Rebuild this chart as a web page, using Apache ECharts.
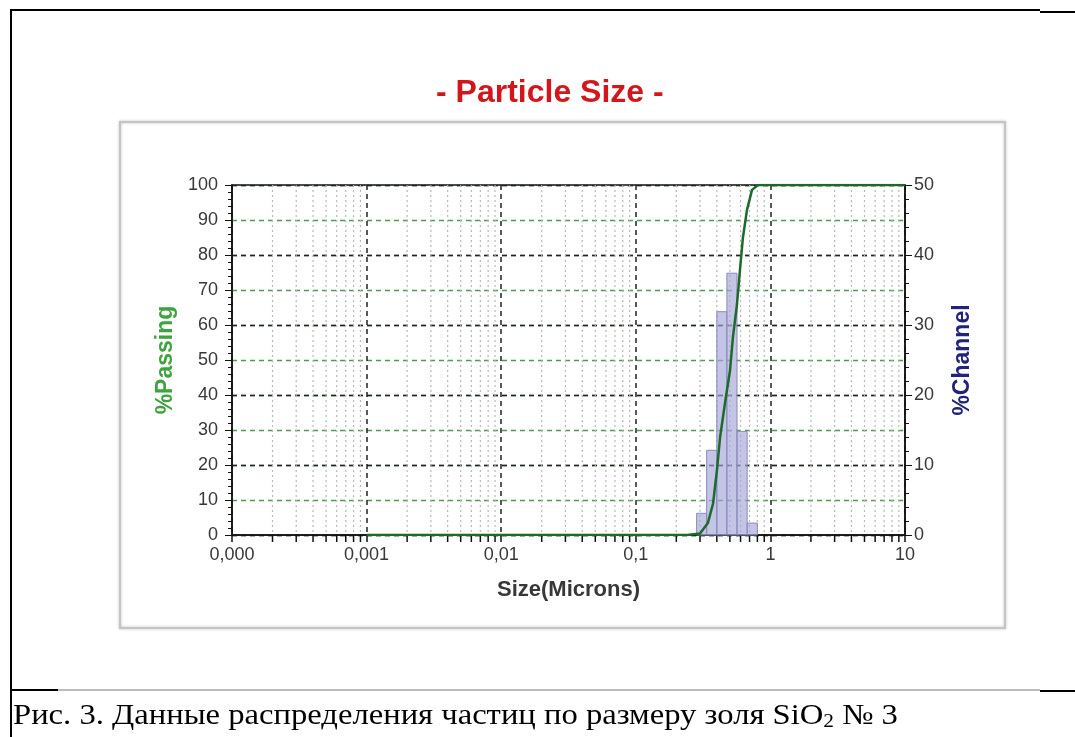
<!DOCTYPE html>
<html><head><meta charset="utf-8">
<script src="https://cdn.jsdelivr.net/npm/echarts@6/dist/echarts.min.js"></script>
<style>html,body{margin:0;padding:0;background:#fff;}#c{width:1075px;height:737px;}</style>
</head><body><div id="c"></div>
<script>
// ---- data ----
const xTickValues = [0.0001, 0.001, 0.01, 0.1, 1, 10];
const xTickLabels = ['0,000', '0,001', '0,01', '0,1', '1', '10'];
const minorDecades = [0.0001, 0.001, 0.01, 0.1, 1];
const minorMultipliers = [2, 3, 4, 5, 6, 7, 8, 9];
const binLower = [0.283, 0.336, 0.400, 0.475, 0.565, 0.672];
const binUpper = [0.336, 0.400, 0.475, 0.565, 0.672, 0.800];
const channelPct = [3.1, 12.1, 31.9, 37.4, 14.8, 1.7];
const passSize = [0.001, 0.24, 0.30, 0.343, 0.375, 0.401, 0.423, 0.46, 0.501, 0.527, 0.565, 0.594, 0.625, 0.67, 0.73, 0.809, 10];
const passPct  = [0, 0, 0.4, 3.4, 9, 18.6, 28, 37.7, 47, 56.6, 66, 75.7, 85, 92.9, 98.6, 100, 100];

const FONT = '"Liberation Sans", Arial, sans-serif';
const minorData = [];
minorDecades.forEach(d => minorMultipliers.forEach(m => minorData.push([d * m, 0])));
const barData = binLower.map((lo, i) => [lo, binUpper[i], channelPct[i]]);
const lineData = passSize.map((s, i) => [s, passPct[i]]);

function fmtX(v) {
  for (let i = 0; i < xTickValues.length; i++) {
    if (Math.abs(Math.log10(v) - Math.log10(xTickValues[i])) < 1e-6) return xTickLabels[i];
  }
  return '';
}

const chart = echarts.init(document.getElementById('c'), null, {renderer: 'canvas'});
chart.setOption({
  animation: false,
  backgroundColor: '#fff',
  title: {
    text: '- Particle Size -', left: 431, top: 72,
    textStyle: {fontFamily: FONT, fontSize: 32, fontWeight: 'bold', color: '#d3161b'}
  },
  grid: {left: 232, right: 170, top: 185, bottom: 202, show: true, borderColor: '#111', borderWidth: 1.5, backgroundColor: 'transparent'},
  xAxis: {
    type: 'log', logBase: 10, min: 0.0001, max: 10,
    axisLine: {show: true, lineStyle: {color: '#111', width: 1.5}},
    axisTick: {show: true, length: 7, lineStyle: {color: '#111', width: 1.5}},
    axisLabel: {formatter: fmtX, fontFamily: FONT, fontSize: 18, color: '#383838', margin: 11},
    splitLine: {show: true, lineStyle: {type: [5, 4], color: '#222', width: 1.5}},
    name: 'Size(Microns)', nameLocation: 'middle', nameGap: 44,
    nameTextStyle: {fontFamily: FONT, fontSize: 22, fontWeight: 'bold', color: '#383838'}
  },
  yAxis: [{
    type: 'value', min: 0, max: 100, interval: 10,
    axisLine: {show: true, lineStyle: {color: '#111', width: 1.5}},
    axisTick: {show: true, length: 7, lineStyle: {color: '#111'}},
    minorTick: {show: true, splitNumber: 5, length: 4, lineStyle: {color: '#111'}},
    axisLabel: {fontFamily: FONT, fontSize: 18, color: '#383838', margin: 14},
    splitLine: {show: true, lineStyle: {type: [5, 4], color: '#4f9a4f', width: 1.3}},
    name: '%Passing', nameLocation: 'middle', nameGap: 54,
    nameTextStyle: {fontFamily: FONT, fontSize: 23, fontWeight: 'bold', color: '#3ea23e'}
  }, {
    type: 'value', min: 0, max: 50, interval: 10, position: 'right',
    axisLine: {show: true, lineStyle: {color: '#111', width: 1.5}},
    axisTick: {show: true, length: 7, lineStyle: {color: '#111'}},
    minorTick: {show: true, splitNumber: 5, length: 4, lineStyle: {color: '#111'}},
    axisLabel: {fontFamily: FONT, fontSize: 18, color: '#383838', margin: 9},
    splitLine: {show: true, lineStyle: {type: [5, 4], color: '#222', width: 1.3}},
    name: '%Channel', nameLocation: 'middle', nameGap: 46,
    nameTextStyle: {fontFamily: FONT, fontSize: 23, fontWeight: 'bold', color: '#22227a'}
  }],
  series: [{
    type: 'custom', silent: true, z: 1, xAxisIndex: 0, yAxisIndex: 0,
    data: minorData, encode: {x: 0, y: 1},
    renderItem: function (params, api) {
      const x = api.coord([api.value(0), 0])[0];
      const yb = api.coord([api.value(0), 0])[1];
      const yt = api.coord([api.value(0), 100])[1];
      return {type: 'group', children: [
        {type: 'line', shape: {x1: x, y1: yt, x2: x, y2: yb}, style: {stroke: '#b8b8b8', lineWidth: 1.2, lineDash: [2, 3]}},
        {type: 'line', shape: {x1: x, y1: yb, x2: x, y2: yb + 7}, style: {stroke: '#111', lineWidth: 1.5}}
      ]};
    }
  }, {
    type: 'custom', z: 2, xAxisIndex: 0, yAxisIndex: 1,
    data: barData, encode: {x: [0, 1], y: 2},
    renderItem: function (params, api) {
      const p0 = api.coord([api.value(0), 0]);
      const p1 = api.coord([api.value(1), api.value(2)]);
      return {type: 'rect', shape: {x: p0[0], y: p1[1], width: p1[0] - p0[0], height: p0[1] - p1[1]},
        style: {fill: 'rgba(165,165,216,0.65)', stroke: '#8a8ab8', lineWidth: 1}};
    }
  }, {
    type: 'line', z: 3, xAxisIndex: 0, yAxisIndex: 0, data: lineData,
    showSymbol: false, smooth: false,
    lineStyle: {color: '#1d6a2b', width: 2.5}
  }],
  graphic: [
    {type: 'rect', z: -10, shape: {x: 120, y: 122, width: 885, height: 506},
      style: {fill: 'none', stroke: '#c4c4c4', lineWidth: 2, shadowBlur: 3, shadowColor: 'rgba(0,0,0,0.25)'}},
    {type: 'line', shape: {x1: 10, y1: 10, x2: 1040, y2: 10}, style: {stroke: '#000', lineWidth: 2}},
    {type: 'line', shape: {x1: 1040, y1: 12, x2: 1075, y2: 12}, style: {stroke: '#000', lineWidth: 2}},
    {type: 'line', shape: {x1: 11, y1: 10, x2: 11, y2: 737}, style: {stroke: '#000', lineWidth: 2}},
    {type: 'line', shape: {x1: 10, y1: 690, x2: 58, y2: 690}, style: {stroke: '#000', lineWidth: 2}},
    {type: 'line', shape: {x1: 58, y1: 690, x2: 1040, y2: 690}, style: {stroke: '#777', lineWidth: 1}},
    {type: 'line', shape: {x1: 1040, y1: 691, x2: 1075, y2: 691}, style: {stroke: '#000', lineWidth: 2}},
    {type: 'text', x: 13, y: 701, scaleX: 1.125, style: {
      text: 'Рис. 3. Данные распределения частиц по размеру золя SiO{sub|2} № 3',
      fontFamily: '"Liberation Serif", "Times New Roman", serif', fontSize: 29, fill: '#000',
      rich: {sub: {fontFamily: '"Liberation Serif", serif', fontSize: 19, padding: [12, 0, 0, 0]}}
    }}
  ]
});
</script></body></html>
